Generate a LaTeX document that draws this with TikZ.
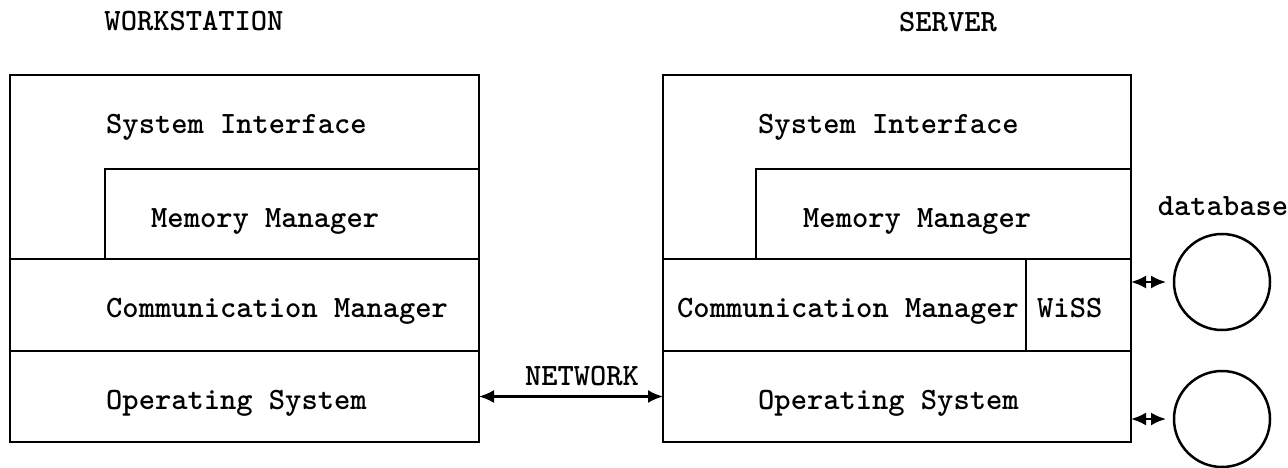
\documentclass[tikz,border=0pt]{standalone}
\usetikzlibrary{arrows.meta}
\begin{document}
\begin{tikzpicture}[x=1pt,y=-1pt,
  frame/.style={line width=2.5pt},
  box/.style={draw, frame, anchor=north west, inner sep=0pt, outer sep=0pt},
  label/.style={inner sep=0pt, anchor=base west, font=\fontsize{31}{36}\selectfont\ttfamily\bfseries},
  title/.style={label, anchor=base},
  link/.style={line width=2.2pt, {Latex[length=15pt,width=13pt]}-{Latex[length=15pt,width=13pt]}},
  db/.style={circle, draw, line width=2.5pt, minimum size=96pt, inner sep=0pt, outer sep=0pt}]
\useasboundingbox (0,0) rectangle (1288,468);

% ---- workstation ----
\node[title] (wsTitle) at (194,31) {WORKSTATION};
\node[box, minimum width=469pt, minimum height=367pt] (ws) at (10,75) {};
\draw[frame] (105,259) |- (479,169);
\draw[frame] (10,259) -- (479,259);
\node[box, minimum width=469pt, minimum height=91pt] (wsos) at (10,351) {};
\node[label] (wsSI) at (106,134) {System Interface};
\node[label] (wsMM) at (151,227) {Memory Manager};
\node[label] (wsCM) at (106,317) {Communication Manager};
\node[label] (wsOS) at (106,409) {Operating System};

% ---- server ----
\node[title] (svTitle) at (948,32) {SERVER};
\node[box, minimum width=468pt, minimum height=367pt] (sv) at (663,75) {};
\draw[frame] (756,259) |- (1131,169);
\draw[frame] (663,259) -- (1131,259);
\draw[frame] (1026,259) -- (1026,351);
\node[box, minimum width=468pt, minimum height=91pt] (svos) at (663,351) {};
\node[label] (svSI) at (758,134) {System Interface};
\node[label] (svMM) at (803,227) {Memory Manager};
\node[label] (svCM) at (677,317) {Communication Manager};
\node[label] (svWiSS) at (1037,317) {WiSS};
\node[label] (svOS) at (758,409) {Operating System};

% ---- network link ----
\draw[link] (wsos.east) -- (svos.west);
\node[title] (net) at (582,385) {NETWORK};

% ---- database disks ----
\node[title] (dbLabel) at (1223,215) {database};
\node[db] (db1) at (1222,282) {};
\node[db] (db2) at (1222,419) {};
\draw[link, shorten >=8pt] (sv.east |- db1) -- (db1.west);
\draw[link, shorten >=8pt] (sv.east |- db2) -- (db2.west);
\end{tikzpicture}
\end{document}
